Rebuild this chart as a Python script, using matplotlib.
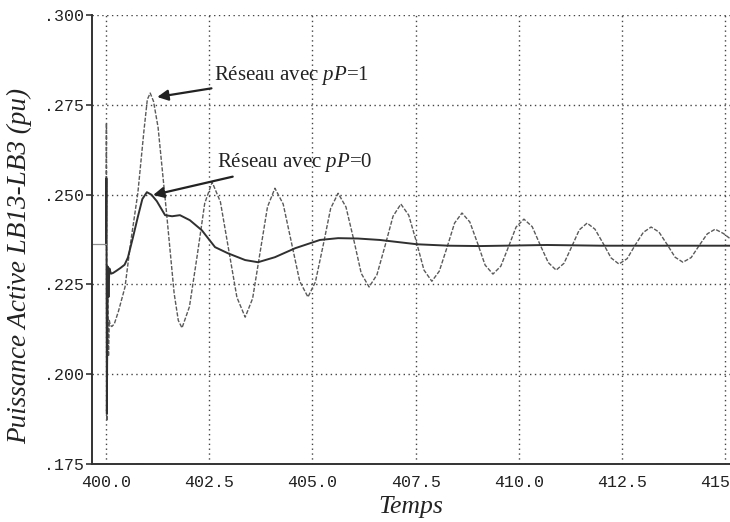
import matplotlib
matplotlib.use("Agg")
import matplotlib.pyplot as plt

# --- data ------------------------------------------------------------------
# Réseau avec pP=1 (oscillating, dashed)
t_p1 = [400.00, 400.01, 400.02, 400.04, 400.06, 400.08, 400.10, 400.14, 400.20,
        400.30, 400.46, 400.60, 400.77, 400.92, 401.00, 401.07, 401.15, 401.26,
        401.46, 401.65, 401.75, 401.84, 402.02, 402.21, 402.39, 402.57, 402.77,
        402.97, 403.17, 403.37, 403.55, 403.73, 403.91, 404.09, 404.29, 404.49,
        404.69, 404.89, 405.07, 405.26, 405.44, 405.62, 405.81, 406.00, 406.18,
        406.37, 406.56, 406.76, 406.95, 407.14, 407.33, 407.52, 407.70, 407.89,
        408.07, 408.26, 408.44, 408.62, 408.81, 409.00, 409.18, 409.37, 409.56,
        409.75, 409.93, 410.12, 410.32, 410.51, 410.71, 410.90, 411.09, 411.28,
        411.46, 411.65, 411.84, 412.04, 412.23, 412.42, 412.62, 412.81, 413.01,
        413.20, 413.39, 413.59, 413.78, 413.97, 414.17, 414.36, 414.56, 414.75,
        414.95, 415.20]
p_p1 = [0.2362, 0.2700, 0.1870, 0.2220, 0.2050, 0.2150, 0.2137, 0.2133, 0.2140,
        0.2175, 0.2243, 0.2370, 0.2504, 0.2680, 0.2765, 0.2783, 0.2760, 0.2688,
        0.2456, 0.2225, 0.2150, 0.2129, 0.2188, 0.2332, 0.2476, 0.2535, 0.2480,
        0.2347, 0.2214, 0.2159, 0.2211, 0.2339, 0.2466, 0.2518, 0.2474, 0.2367,
        0.2259, 0.2215, 0.2257, 0.2360, 0.2462, 0.2504, 0.2466, 0.2374, 0.2281,
        0.2243, 0.2277, 0.2359, 0.2440, 0.2474, 0.2443, 0.2367, 0.2290, 0.2259,
        0.2287, 0.2354, 0.2421, 0.2449, 0.2424, 0.2364, 0.2304, 0.2279, 0.2301,
        0.2356, 0.2410, 0.2432, 0.2411, 0.2361, 0.2311, 0.2290, 0.2309, 0.2356,
        0.2402, 0.2421, 0.2404, 0.2364, 0.2324, 0.2307, 0.2322, 0.2359, 0.2395,
        0.2410, 0.2396, 0.2361, 0.2326, 0.2312, 0.2325, 0.2358, 0.2391, 0.2404,
        0.2392, 0.2370]

# Réseau avec pP=0 (well damped, solid)
t_p0 = [400.00, 400.01, 400.02, 400.04, 400.06, 400.08, 400.12, 400.17, 400.25,
        400.35, 400.45, 400.53, 400.65, 400.77, 400.88, 400.99, 401.10, 401.23,
        401.43, 401.60, 401.79, 402.03, 402.32, 402.64, 402.95, 403.37, 403.68,
        404.09, 404.58, 405.18, 405.62, 406.10, 406.63, 407.53, 408.30, 409.06,
        410.68, 412.00, 415.20]
p_p0 = [0.2362, 0.2546, 0.1890, 0.2300, 0.2215, 0.2295, 0.2280, 0.2282, 0.2288,
        0.2296, 0.2305, 0.2325, 0.2380, 0.2438, 0.2488, 0.2507, 0.2500, 0.2482,
        0.2443, 0.2440, 0.2443, 0.2429, 0.2401, 0.2354, 0.2337, 0.2318, 0.2312,
        0.2326, 0.2351, 0.2374, 0.2379, 0.2378, 0.2374, 0.2362, 0.2358, 0.2357,
        0.2360, 0.2358, 0.2358]

steady = 0.2362

x_ticks = [400.0, 402.5, 405.0, 407.5, 410.0, 412.5, 415.0]
y_ticks = [0.175, 0.200, 0.225, 0.250, 0.275, 0.300]
y_labels = [".175", ".200", ".225", ".250", ".275", ".300"]

plt.rcParams["mathtext.fontset"] = "custom"
plt.rcParams["mathtext.it"] = "Liberation Serif:italic"
plt.rcParams["mathtext.rm"] = "Liberation Serif"

fig = plt.figure(figsize=(7.3, 5.22), dpi=100)
ax = fig.add_axes([0.126, 0.111, 0.874, 0.860])

ax.plot(t_p1, p_p1, color="#5a5a5a", lw=1.0, ls=(0, (3, 1.2)))
ax.plot(t_p0, p_p0, color="#303030", lw=1.4)
ax.plot([399.66, 400.0], [steady, steady], color="#909090", lw=0.9)

ax.set_xlim(399.66, 415.11)
ax.set_ylim(0.175, 0.300)
ax.set_xticks(x_ticks)
ax.set_xticklabels([f"{v:.1f}" for v in x_ticks])
ax.set_yticks(y_ticks)
ax.set_yticklabels(y_labels)

for lab in ax.get_xticklabels() + ax.get_yticklabels():
    lab.set_fontfamily("Liberation Mono")
    lab.set_fontsize(12)
    lab.set_color("#222222")

ax.tick_params(axis="y", direction="out", length=4, width=1.2, pad=2, color="#333333")
ax.tick_params(axis="x", length=0, pad=8)

ax.grid(True, color="#444444", ls=(0, (1, 2.5)), lw=1.0)
for side in ["top", "right"]:
    ax.spines[side].set_visible(False)
for side in ["left", "bottom"]:
    ax.spines[side].set_color("#333333")
    ax.spines[side].set_linewidth(1.4)

ax.set_xlabel("Temps", family="Liberation Serif", style="italic", fontsize=18.5,
              color="#222222", labelpad=4)
ax.set_ylabel("Puissance Active LB13-LB3 (pu)", family="Liberation Serif",
              style="italic", fontsize=19.5, color="#222222")
ax.yaxis.set_label_coords(-0.094, 0.441)

arrow = dict(arrowstyle="-|>", color="#222222", lw=1.6, mutation_scale=16,
             shrinkA=0, shrinkB=0)
ax.annotate("Réseau avec $pP$=1", xy=(401.24, 0.2772), xytext=(402.62, 0.2832),
            family="Liberation Serif", fontsize=15, color="#222222",
            va="center", ha="left", arrowprops=arrow)
ax.annotate("Réseau avec $pP$=0", xy=(401.14, 0.2499), xytext=(402.68, 0.2590),
            family="Liberation Serif", fontsize=15, color="#222222",
            va="center", ha="left", arrowprops=arrow)

fig.savefig("out.png", dpi=100)
